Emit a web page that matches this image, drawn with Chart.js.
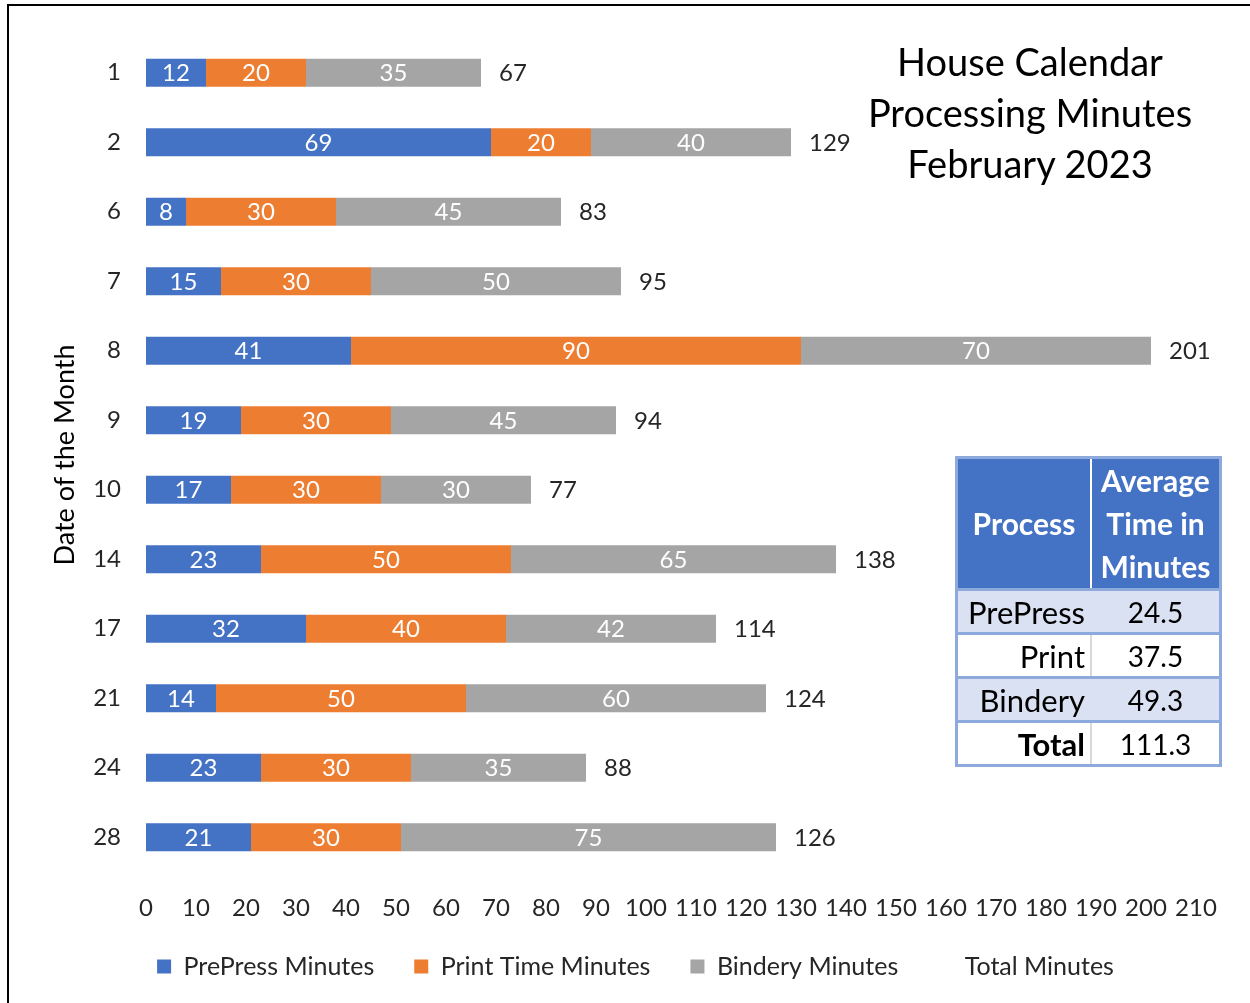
<!DOCTYPE html>
<html>
<head>
<meta charset="utf-8">
<script src="https://cdn.jsdelivr.net/npm/chart.js@4.4.0/dist/chart.umd.min.js"></script>
<style>
  html, body { margin: 0; padding: 0; background: #fff; overflow: hidden; }
  #wrap { position: relative; width: 1250px; height: 1003px; }
  #frame { position: absolute; left: 7px; top: 4px; width: 1300px; height: 1100px; border: 2px solid #000; box-sizing: border-box; pointer-events: none; }
  #title { position: absolute; left: 830px; top: 36px; width: 400px; text-align: center; font-family: Lato, sans-serif; font-size: 38px; line-height: 51px; color: #000; }
  #avg { position: absolute; left: 955px; top: 456px; width: 267px; border-collapse: collapse; font-family: Lato, sans-serif; font-size: 28px; color: #000; border: 3px solid #8EA9DB; }
  #avg th { background: #4472C4; color: #fff; font-weight: bold; font-size: 30px; border-right: 2px solid #fff; line-height: 43px; padding: 0 2px; }
  #avg th:last-child { border-right: none; }
  #avg td { height: 41px; padding: 0 5px; border-top: 3px solid #8EA9DB; }
  #avg td:first-child { text-align: right; width: 122px; font-size: 31px; border-right: 2px solid #D9D9D9; }
  #avg td:last-child { text-align: center; }
  #avg tr.band td { background: #D9E1F2; border-right-color: #D9E1F2; }
</style>
</head>
<body>
<div id="wrap">
  <canvas id="chart" width="1250" height="1003"></canvas>
  <div id="title">House Calendar<br>Processing Minutes<br>February 2023</div>
  <table id="avg">
    <tr><th>Process</th><th>Average<br>Time in<br>Minutes</th></tr>
    <tr class="band"><td>PrePress</td><td>24.5</td></tr>
    <tr><td>Print</td><td>37.5</td></tr>
    <tr class="band"><td>Bindery</td><td>49.3</td></tr>
    <tr><td><b>Total</b></td><td>111.3</td></tr>
  </table>
  <div id="frame"></div>
</div>
<script>
// chart data
const days = ['1', '2', '6', '7', '8', '9', '10', '14', '17', '21', '24', '28'];
const prepress = [12, 69, 8, 15, 41, 19, 17, 23, 32, 14, 23, 21];
const print = [20, 20, 30, 30, 90, 30, 30, 50, 40, 50, 30, 30];
const bindery = [35, 40, 45, 50, 70, 45, 30, 65, 42, 60, 35, 75];
const totals = [67, 129, 83, 95, 201, 94, 77, 138, 114, 124, 88, 126];

const FONT = 'Lato';
const TXT = '#262626';

// value labels: white inside the segments, totals just after the bar end
const barLabels = {
  id: 'barLabels',
  afterLayout(chart) {
    // legend sits a bit higher and further right in the original
    chart.legend.top -= 12;
    chart.legend.bottom -= 12;
    chart.legend.left += 15;
    chart.legend.right += 15;
  },
  afterDatasetsDraw(chart) {
    const ctx = chart.ctx;
    ctx.save();
    ctx.font = '24px ' + FONT;
    ctx.textBaseline = 'middle';
    chart.data.datasets.forEach((ds, i) => {
      const meta = chart.getDatasetMeta(i);
      meta.data.forEach((bar, j) => {
        const v = ds.data[j];
        if (i < 3) {
          ctx.fillStyle = '#fff';
          ctx.textAlign = 'center';
          ctx.fillText(v, (bar.x + bar.base) / 2, bar.y + 1);
        } else {
          ctx.fillStyle = TXT;
          ctx.textAlign = 'left';
          ctx.fillText(v, bar.base + 18, bar.y + 1);
        }
      });
    });
    ctx.restore();
  }
};

const ctx = document.getElementById('chart').getContext('2d');
new Chart(ctx, {
  type: 'bar',
  data: {
    labels: days,
    datasets: [
      { label: 'PrePress Minutes', data: prepress, backgroundColor: '#4472C4' },
      { label: 'Print Time Minutes', data: print, backgroundColor: '#ED7D31' },
      { label: 'Bindery Minutes', data: bindery, backgroundColor: '#A5A5A5' },
      { label: 'Total Minutes', data: totals, backgroundColor: 'rgba(0,0,0,0)', borderWidth: 0 }
    ]
  },
  options: {
    indexAxis: 'y',
    responsive: false,
    animation: false,
    barPercentage: 0.5,
    categoryPercentage: 0.8,
    layout: { padding: { left: 45, right: 54, top: 38, bottom: 2 } },
    scales: {
      x: {
        stacked: true,
        min: 0,
        max: 210,
        grid: { display: false },
        border: { display: false },
        ticks: { stepSize: 10, padding: 14, color: TXT, font: { family: FONT, size: 24 } },
        afterFit(scale) { scale.height = 54; }
      },
      y: {
        stacked: true,
        grid: { display: false },
        border: { display: false },
        ticks: { padding: 17, color: TXT, font: { family: FONT, size: 24 } },
        title: { display: true, text: 'Date of the Month', color: '#000', font: { family: FONT, size: 27 }, padding: 4 },
        afterFit(scale) { scale.width = 101; }
      }
    },
    plugins: {
      legend: {
        position: 'bottom',
        labels: { boxWidth: 14, boxHeight: 14, padding: 40, color: TXT, font: { family: FONT, size: 25 } }
      },
      tooltip: { enabled: false }
    }
  },
  plugins: [barLabels]
});
</script>
</body>
</html>
